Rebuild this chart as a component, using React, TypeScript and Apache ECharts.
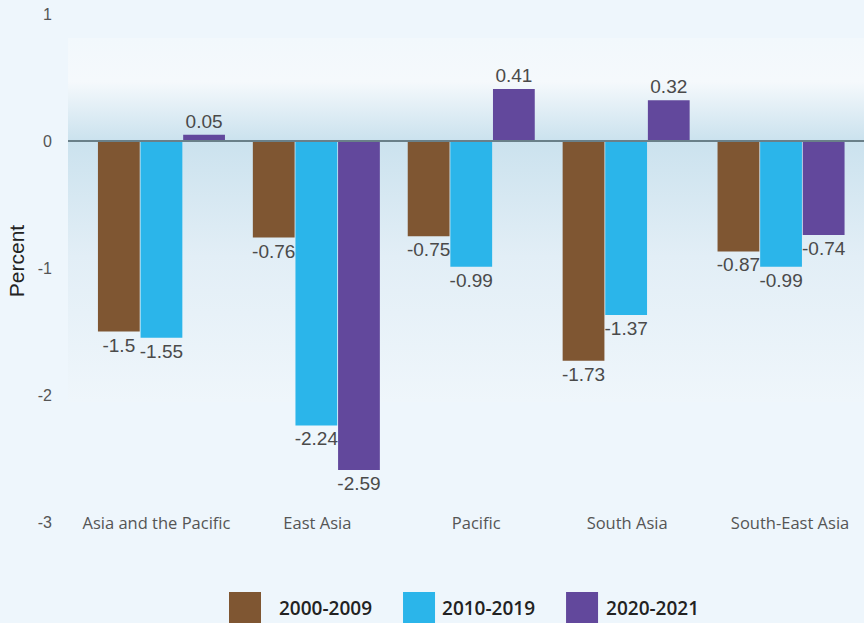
import React, { useEffect, useRef } from "react";
import * as echarts from "echarts";

const categories = ["Asia and the Pacific", "East Asia", "Pacific", "South Asia", "South-East Asia"];
const seriesNames = ["2000-2009", "2010-2019", "2020-2021"];
const s2000 = [-1.5, -0.76, -0.75, -1.73, -0.87];
const s2010 = [-1.55, -2.24, -0.99, -1.37, -0.99];
const s2020 = [0.05, -2.59, 0.41, 0.32, -0.74];
const colors = ["#7f5632", "#2bb5ea", "#62489c"];
const yTicks = { min: -3, max: 1, interval: 1 };

export default function App() {
  const ref = useRef<HTMLDivElement>(null);
  useEffect(() => {
    if (!ref.current) return;
    const chart = echarts.init(ref.current, null, { renderer: "svg" });
    const mkData = (vals: number[]) =>
      vals.map((v) => ({
        value: v,
        label: { position: v < 0 ? "bottom" : "top" },
      }));
    const allSeries = [s2000, s2010, s2020];
    // small horizontal nudges of category labels, as in the reference layout
    const nudge = [-5, 1, 5, 1, 9];
    const catData = categories.map((c, i) => ({
      value: c,
      textStyle: {
        verticalAlign: "middle",
        padding: nudge[i] >= 0 ? [0, 0, 0, 2 * nudge[i]] : [0, -2 * nudge[i], 0, 0],
      },
    }));
    const legendPad = [13, 2, 3];
    chart.setOption({
      animation: false,
      backgroundColor: "transparent",
      grid: {
        left: 84,
        right: 5.5,
        top: 14,
        bottom: 101,
        containLabel: false,
        outerBoundsMode: "none",
      },
      legend: {
        left: 229,
        top: 592,
        padding: 0,
        itemWidth: 32,
        itemHeight: 32,
        itemGap: 31,
        icon: "rect",
        data: seriesNames.map((n, i) => ({
          name: n,
          textStyle: { padding: [0, 0, 0, legendPad[i]] },
        })),
        textStyle: {
          fontFamily: "Open Sans",
          fontSize: 19,
          fontWeight: 600,
          color: "#222",
        },
      },
      xAxis: {
        type: "category",
        data: catData,
        axisLine: { show: false, onZero: false },
        axisTick: { show: false },
        axisLabel: {
          margin: 0,
          verticalAlign: "middle",
          fontFamily: "Open Sans",
          fontSize: 16.5,
          color: "#555",
          interval: 0,
        },
        splitLine: { show: false },
      },
      yAxis: {
        type: "value",
        min: yTicks.min,
        max: yTicks.max,
        interval: yTicks.interval,
        name: "Percent",
        nameLocation: "middle",
        nameRotate: 90,
        nameGap: 57,
        nameTextStyle: {
          fontFamily: "Liberation Sans",
          fontSize: 21,
          fontWeight: 500,
          color: "#222",
          padding: [0, 0, 0, 14],
        },
        axisLine: { show: false },
        axisTick: { show: false },
        splitLine: { show: false },
        axisLabel: {
          margin: 32,
          fontFamily: "Liberation Sans",
          fontSize: 16,
          color: "#555",
        },
      },
      series: allSeries.map((vals, i) => ({
        name: seriesNames[i],
        type: "bar",
        data: mkData(vals),
        barGap: "2%",
        barCategoryGap: "18%",
        itemStyle: { color: colors[i] },
        label: {
          show: true,
          distance: 4,
          fontFamily: "Liberation Sans",
          fontSize: 19,
          color: "#4a4a4a",
        },
      })),
    });
    const y0 = chart.convertToPixel({ yAxisIndex: 0 }, 0) as number;
    chart.setOption({
      graphic: [
        {
          type: "rect",
          z: -100,
          silent: true,
          shape: { x: 68, y: 38, width: 796, height: 364 },
          style: {
            fill: new echarts.graphic.LinearGradient(0, 0, 0, 1, [
              { offset: 0, color: "#f2f8fc" },
              { offset: 0.12, color: "#f5f9fc" },
              { offset: 0.28, color: "#cbe2ee" },
              { offset: 0.6, color: "#e2eef6" },
              { offset: 1, color: "#eff6fb" },
            ]),
          },
        },
        {
          type: "line",
          z: 100,
          silent: true,
          shape: { x1: 68, y1: y0, x2: 864, y2: y0 },
          style: { stroke: "#6a8089", lineWidth: 2 },
        },
      ],
    });
    return () => chart.dispose();
  }, []);
  return (
    <div
      style={{
        position: "fixed",
        left: 0,
        top: 0,
        width: 864,
        height: 623,
        background: "#eef6fc",
      }}
    >
      <div ref={ref} style={{ width: 864, height: 623 }} />
    </div>
  );
}
